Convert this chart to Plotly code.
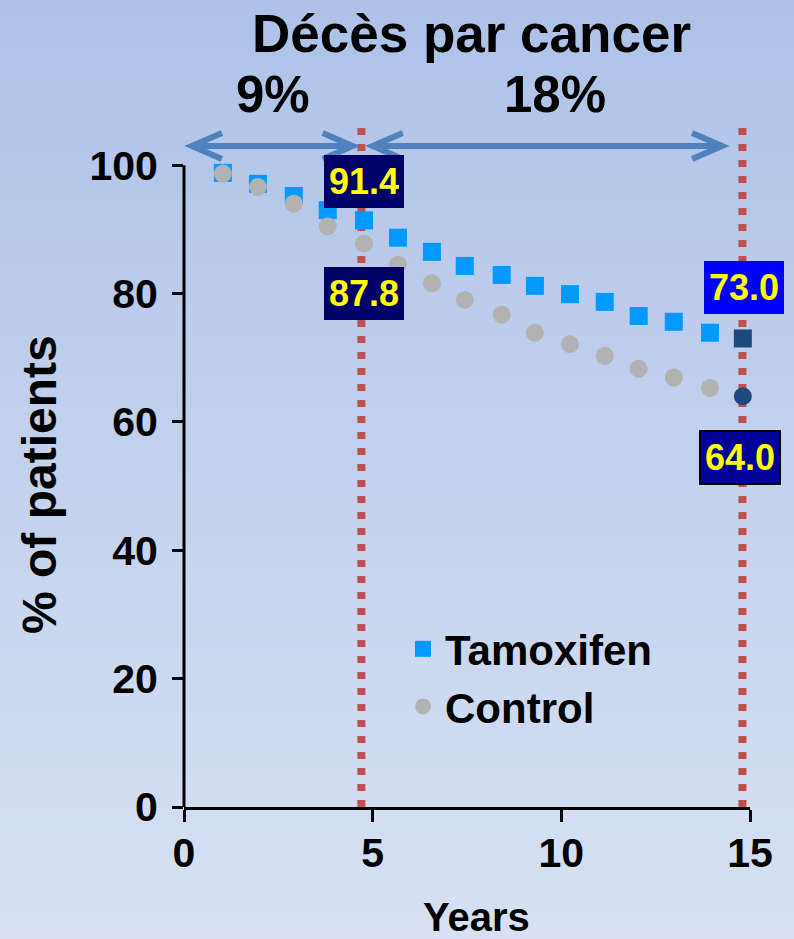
import plotly.graph_objects as go

# ---- data -----------------------------------------------------------------
years = [1.03, 1.96, 2.91, 3.81, 4.77, 5.67, 6.57, 7.44,
         8.42, 9.30, 10.23, 11.15, 12.05, 12.98, 13.94, 14.81]
tamoxifen = [98.8, 97.1, 95.2, 93.0, 91.4, 88.7, 86.5, 84.3,
             82.9, 81.2, 79.9, 78.7, 76.5, 75.6, 73.9, 73.0]
control = [98.7, 96.6, 94.0, 90.5, 87.8, 84.5, 81.6, 79.0,
           76.7, 73.9, 72.1, 70.3, 68.3, 66.9, 65.3, 64.0]
landmark_years = [4.7, 14.8]          # 5-year and 15-year cut-offs
x_ticks = [0, 5, 10, 15]
y_ticks = [0, 20, 40, 60, 80, 100]
period_labels = ["9%", "18%"]
series_names = ["Tamoxifen", "Control"]
title_text = "Décès par cancer"

# ---- geometry / style -----------------------------------------------------
W, H = 794, 939
M_L, M_R, M_T, M_B = 184, 44, 101, 132
X_MIN, X_MAX = 0, 15
Y_MIN, Y_MAX = 0, 110
PLOT_W = W - M_L - M_R
PLOT_H = H - M_T - M_B
PX_X = PLOT_W / (X_MAX - X_MIN)
PX_Y = PLOT_H / (Y_MAX - Y_MIN)

FONT = "Liberation Sans, Arial, sans-serif"
BLUE = "#0099FF"
GREY = "#B2B2B2"
DARK = "#1F497D"
ARROW = "#4F81BD"
RED = "#C0504D"
YELLOW = "#FFFF00"

ARROW_Y = 103
ARROW_SPANS = [(0.21, 4.47), (5.0, 14.26)]
PERIOD_X = [2.37, 9.83]
LINE_TOP = 106


def px_to_paper_x(px):
    return (px - M_L) / PLOT_W


def px_to_paper_y(py):
    return (H - M_B - py) / PLOT_H


def arrow_path(x0, x1, y, arm_dx=30, arm_dy=13):
    dx = arm_dx / PX_X
    dy = arm_dy / PX_Y
    return (f"M{x0},{y} L{x1},{y} "
            f"M{x0 + dx},{y + dy} L{x0},{y} L{x0 + dx},{y - dy} "
            f"M{x1 - dx},{y + dy} L{x1},{y} L{x1 - dx},{y - dy}")


fig = go.Figure()

# highlight the final (15-year) point of each series in dark blue
tam_colors = [BLUE] * (len(tamoxifen) - 1) + [DARK]
ctl_colors = [GREY] * (len(control) - 1) + [DARK]

fig.add_trace(go.Scatter(
    x=years, y=tamoxifen, mode="markers", name=series_names[0],
    marker=dict(symbol="square", size=18, color=tam_colors),
    cliponaxis=False,
))
fig.add_trace(go.Scatter(
    x=years, y=control, mode="markers", name=series_names[1],
    marker=dict(symbol="circle", size=18, color=ctl_colors),
    cliponaxis=False,
))

shapes = []
# vertical background gradient
n_bands = 90
top_rgb = (174, 194, 232)
bot_rgb = (215, 225, 243)
for i in range(n_bands):
    t = i / (n_bands - 1)
    c = tuple(round(top_rgb[k] + (bot_rgb[k] - top_rgb[k]) * t) for k in range(3))
    y_top = i * H / n_bands
    y_bot = (i + 1) * H / n_bands + 1
    shapes.append(dict(
        type="rect", xref="paper", yref="paper", layer="below",
        x0=px_to_paper_x(0), x1=px_to_paper_x(W),
        y0=px_to_paper_y(y_bot), y1=px_to_paper_y(y_top),
        fillcolor=f"rgb{c}", line=dict(width=0),
    ))

# y axis line, drawn only up to 100 %
shapes.append(dict(
    type="line", xref="paper", yref="paper", layer="above",
    x0=0, x1=0, y0=0, y1=(100 - Y_MIN) / (Y_MAX - Y_MIN),
    line=dict(color="black", width=3),
))

# dotted landmark lines
for lx in landmark_years:
    shapes.append(dict(
        type="line", xref="x", yref="y", layer="below",
        x0=lx, x1=lx, y0=0, y1=LINE_TOP,
        line=dict(color=RED, width=8, dash="7px,9px"),
    ))

# double-headed period arrows
for x0, x1 in ARROW_SPANS:
    shapes.append(dict(
        type="path", xref="x", yref="y", layer="above",
        path=arrow_path(x0, x1, ARROW_Y),
        line=dict(color=ARROW, width=6),
    ))

annotations = []

# value boxes on the 5- and 15-year points
i5 = 4
i15 = len(years) - 1
box_specs = [
    (years[i5], tamoxifen[i5], 0, -39, "#000066", None),
    (years[i5], control[i5], 0, 50, "#000066", None),
    (years[i15], tamoxifen[i15], 1, -51, "#0000FF", None),
    (years[i15], control[i15], -3, 61, "#000099", "black"),
]
for bx, by, ax, ay, bg, border in box_specs:
    annotations.append(dict(
        x=bx, y=by, xref="x", yref="y",
        text=f"{by:.1f}", showarrow=True, ax=ax, ay=ay,
        arrowcolor="rgba(0,0,0,0)", arrowwidth=0.1,
        font=dict(family=FONT, size=36, color=YELLOW, weight="bold"),
        bgcolor=bg, bordercolor=border or bg,
        borderwidth=2 if border else 0,
        borderpad=5 if not border else 4,
        width=70, height=43,
    ))

# title and period percentages
annotations.append(dict(
    x=px_to_paper_x(471), y=px_to_paper_y(33), xref="paper", yref="paper",
    text=title_text, showarrow=False, xanchor="center", yanchor="middle",
    font=dict(family=FONT, size=53, color="black", weight="bold"),
))
for lbl, px in zip(period_labels, PERIOD_X):
    annotations.append(dict(
        x=px, y=px_to_paper_y(95), xref="x", yref="paper",
        text=lbl, showarrow=False, xanchor="center", yanchor="middle",
        font=dict(family=FONT, size=51, color="black", weight="bold"),
    ))

# axis titles
annotations.append(dict(
    x=px_to_paper_x(39), y=px_to_paper_y(485), xref="paper", yref="paper",
    text="% of patients", textangle=-90, showarrow=False,
    xanchor="center", yanchor="middle",
    font=dict(family=FONT, size=48, color="black", weight="bold"),
))
annotations.append(dict(
    x=px_to_paper_x(476.5), y=px_to_paper_y(917), xref="paper", yref="paper",
    text="Years", showarrow=False, xanchor="center", yanchor="middle",
    font=dict(family=FONT, size=40, color="black", weight="bold"),
))

fig.update_layout(
    width=W, height=H,
    margin=dict(l=M_L, r=M_R, t=M_T, b=M_B, autoexpand=False),
    paper_bgcolor="rgb(174,194,232)",
    plot_bgcolor="rgba(0,0,0,0)",
    shapes=shapes,
    annotations=annotations,
    showlegend=True,
    legend=dict(
        x=px_to_paper_x(401), y=px_to_paper_y(615),
        xanchor="left", yanchor="top",
        bgcolor="rgba(0,0,0,0)",
        font=dict(family=FONT, size=42, color="black", weight="bold"),
        itemsizing="trace",
        itemwidth=34,
        tracegroupgap=0,
    ),
    xaxis=dict(
        range=[X_MIN, X_MAX], tickvals=x_ticks, ticktext=[str(v) for v in x_ticks],
        showgrid=False, zeroline=False,
        showline=True, linecolor="black", linewidth=3,
        ticks="outside", ticklen=12, tickwidth=3, tickcolor="black",
        tickfont=dict(family=FONT, size=41, color="black", weight="bold"),
        ticklabelstandoff=-4,
        fixedrange=True,
    ),
    yaxis=dict(
        range=[Y_MIN, Y_MAX], tickvals=y_ticks, ticktext=[str(v) for v in y_ticks],
        showgrid=False, zeroline=False, showline=False,
        ticks="outside", ticklen=11, tickwidth=3, tickcolor="black",
        tickfont=dict(family=FONT, size=41, color="black", weight="bold"),
        ticklabelstandoff=6,
        fixedrange=True,
    ),
)

fig.write_html("out.html")
